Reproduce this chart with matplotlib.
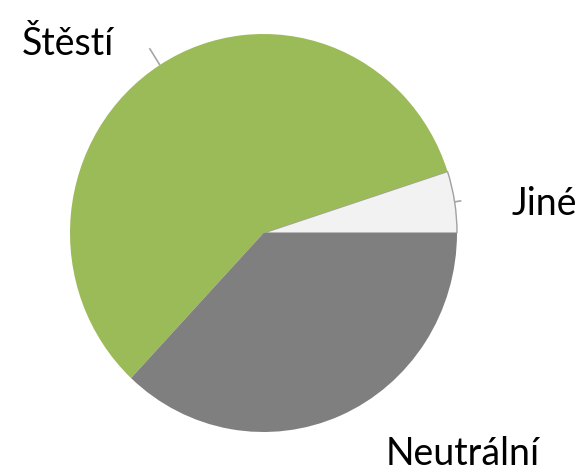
import numpy as np
import matplotlib.pyplot as plt

labels = ["Jiné", "Štěstí", "Neutrální"]
shares = [5.0, 58.0, 37.0]
colors = ["#f2f2f2", "#9bbb59", "#7f7f7f"]

# pixel geometry of the reference (pie is very slightly taller than wide)
W, H = 583, 475
cx, cy = 263.5, 233.0
rx, ry = 193.5, 199.0

# label anchors: left edge / baseline, in pixels
label_px = {"Jiné": (512, 215), "Štěstí": (22, 55), "Neutrální": (386, 465)}
leader = {"Jiné": (1.0, 1.035), "Štěstí": (1.0, 1.1)}


def to_data(px, py):
    return (px - cx) / rx, (cy - py) / ry


fig = plt.figure(figsize=(W / 100, H / 100), dpi=100)
ax = fig.add_axes([0, 0, 1, 1])

wedges, _ = ax.pie(shares, colors=colors, startangle=0, counterclock=True,
                   radius=1.0, wedgeprops={"linewidth": 0})
wedges[0].set_edgecolor("#a0a0a0")
wedges[0].set_linewidth(1.0)

for w, name in zip(wedges, labels):
    mid = np.deg2rad((w.theta1 + w.theta2) / 2)
    if name in leader:
        r0, r1 = leader[name]
        ax.plot([r0 * np.cos(mid), r1 * np.cos(mid)],
                [r0 * np.sin(mid), r1 * np.sin(mid)],
                color="#a6a6a6", lw=1.2, solid_capstyle="butt")
    x, y = to_data(*label_px[name])
    ax.text(x, y, name, ha="left", va="baseline", fontsize=27,
            family=["Lato", "DejaVu Sans"], color="black")

ax.set_xlim(-cx / rx, (W - cx) / rx)
ax.set_ylim((cy - H) / ry, cy / ry)
ax.set_aspect("auto")
ax.axis("off")

fig.savefig("out.png", dpi=100)
